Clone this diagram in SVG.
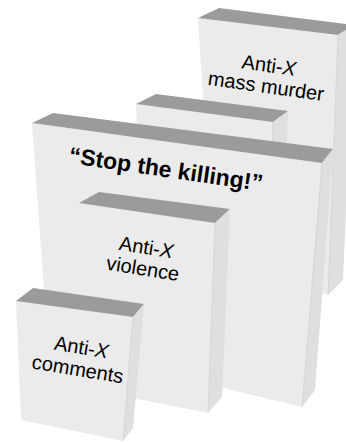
<svg xmlns="http://www.w3.org/2000/svg" width="346" height="444" viewBox="0 0 346 444">
<style>
.front{fill:#ebebeb;}
.top{fill:#9b9b9b;}
.side{fill:#dfdfdf;}
.edge{fill:none;stroke:#d2d2d2;stroke-width:0.8;}
.lbl{font-family:"Liberation Sans",Arial,sans-serif;font-size:20px;fill:#000;text-anchor:middle;}
.big{font-family:"Liberation Sans",Arial,sans-serif;font-size:23px;font-weight:bold;fill:#000;text-anchor:middle;}
</style>
<rect width="346" height="444" fill="#ffffff"/>
<g id="box-mass-murder">
<polygon class="front" points="198,18 338,35 328,295 214,272"/>
<polygon class="top" points="198,18 219,8 354,25 338,35"/>
<polygon class="side" points="338,35 354,25 343,280 328,295"/>
<polyline class="edge" points="338,35 328,295"/>
<text class="lbl" transform="translate(267.5,76) rotate(8)"><tspan x="0" y="-4">Anti-<tspan font-style="italic">X</tspan></tspan><tspan x="0" y="17">mass murder</tspan></text>
</g>
<g id="box-blank">
<polygon class="front" points="136,104 273,122 265,380 145,360"/>
<polygon class="top" points="136,104 156,94 288,111 273,122"/>
<polygon class="side" points="273,122 288,111 280,370 265,380"/>
<polyline class="edge" points="273,122 265,380"/>
</g>
<g id="box-stop-killing">
<polygon class="front" points="32,123 322,163 302,407 48,346"/>
<polygon class="top" points="32,123 53,113 333,149 322,163"/>
<polygon class="side" points="322,163 333,149 315,390 302,407"/>
<polyline class="edge" points="322,163 302,407"/>
<text class="big" transform="translate(166,169) rotate(8.3)" x="0" y="8">“Stop the killing!”</text>
</g>
<g id="box-violence">
<polygon class="front" points="79,203 215,223 208,413 87,389"/>
<polygon class="top" points="79,203 99,192 230,209 215,223"/>
<polygon class="side" points="215,223 230,209 222,397 208,413"/>
<polyline class="edge" points="215,223 208,413"/>
<text class="lbl" transform="translate(144.5,258.5) rotate(9)"><tspan x="0" y="-4.5">Anti-<tspan font-style="italic">X</tspan></tspan><tspan x="0" y="17">violence</tspan></text>
</g>
<g id="box-comments">
<polygon class="front" points="16,301 133,317 123,441 21,420"/>
<polygon class="top" points="16,301 33,288 144,304 133,317"/>
<polygon class="side" points="133,317 144,304 133,428 123,441"/>
<polyline class="edge" points="133,317 123,441"/>
<text class="lbl" transform="translate(79.5,358.5) rotate(9.5)"><tspan x="0" y="-4.5">Anti-<tspan font-style="italic">X</tspan></tspan><tspan x="0" y="17.5">comments</tspan></text>
</g>
<g id="connectors"></g>
</svg>
